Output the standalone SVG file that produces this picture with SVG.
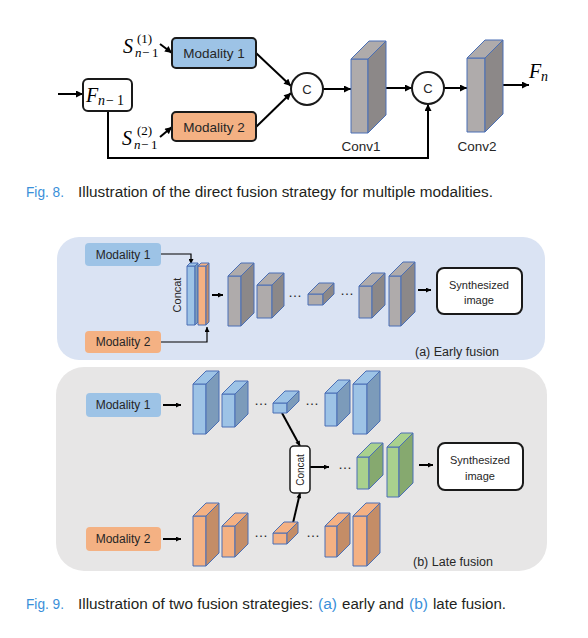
<svg xmlns="http://www.w3.org/2000/svg" width="588" height="638" viewBox="0 0 588 638">
<style>
.lbl{font-family:"Liberation Sans",Arial,sans-serif;fill:#262626}
.cap{font-family:"Liberation Sans",Arial,sans-serif;font-size:15.5px;fill:#231f20}
.capb{fill:#3a8fd9}
.math{font-family:"Liberation Serif","Times New Roman",serif;font-style:italic;fill:#000}
.up{font-style:normal}
.conn{stroke:#000;stroke-width:2;fill:none}
.thin{stroke:#000;stroke-width:1.2;fill:none}
.box{stroke:#1a1a1a;stroke-width:2}
.pr polygon,.pr rect{stroke:#4a6fb5;stroke-width:1;stroke-linejoin:round}
.gf{fill:#afabab}.gs{fill:#8c8888}
.bf{fill:#9dc3e6}.bs{fill:#7c9bba}
.of{fill:#f4b183}.os{fill:#c48d67}
.nf{fill:#a9d18e}.ns{fill:#86a96f}
.dots{font-family:"Liberation Sans",Arial,sans-serif;font-size:14px;fill:#262626}
</style>
<defs>
<marker id="ah" viewBox="0 0 10 10" refX="10" refY="5" markerWidth="8" markerHeight="7" markerUnits="userSpaceOnUse" orient="auto"><path d="M0,0 L10,5 L0,10 z" fill="#000"/></marker>
<marker id="ahs" viewBox="0 0 10 10" refX="10" refY="5" markerWidth="6" markerHeight="5" markerUnits="userSpaceOnUse" orient="auto"><path d="M0,0 L10,5 L0,10 z" fill="#000"/></marker>
</defs>

<!-- ===== Fig 8 ===== -->
<g id="connectors-fig8">
<line class="conn" x1="58" y1="94" x2="83" y2="94" marker-end="url(#ah)"/>
<line class="conn" x1="160" y1="44" x2="172" y2="53" marker-end="url(#ah)"/>
<line class="conn" x1="160" y1="137" x2="172" y2="127" marker-end="url(#ah)"/>
<line class="conn" x1="256" y1="53" x2="291" y2="86" marker-end="url(#ah)"/>
<line class="conn" x1="256" y1="127" x2="291" y2="93" marker-end="url(#ah)"/>
<line class="conn" x1="323" y1="89" x2="351" y2="89" marker-end="url(#ah)"/>
<line class="conn" x1="386" y1="88" x2="412" y2="88" marker-end="url(#ah)"/>
<line class="conn" x1="444" y1="88" x2="467" y2="88" marker-end="url(#ah)"/>
<line class="conn" x1="503" y1="85" x2="529" y2="85" marker-end="url(#ah)"/>
<polyline class="conn" points="108,111 108,158 428,158 428,104" marker-end="url(#ah)"/>
</g>

<g id="F_prev">
<rect class="box" x="83" y="79" width="49" height="32" rx="5" fill="#fff"/>
<text class="math" font-size="20" x="86" y="102">F</text>
<text class="math" font-size="14" x="98" y="105">n</text>
<text class="math up" font-size="14" x="106" y="105">−</text>
<text class="math up" font-size="14" x="117" y="105">1</text>
</g>
<g id="S1">
<text class="math" font-size="20" x="123" y="53">S</text>
<text class="math up" font-size="13" x="137" y="43">(1)</text>
<text class="math" font-size="13" x="135" y="57">n</text>
<text class="math up" font-size="13" x="142" y="57">−</text>
<text class="math up" font-size="13" x="152" y="57">1</text>
</g>
<g id="S2">
<text class="math" font-size="20" x="122" y="145">S</text>
<text class="math up" font-size="13" x="137" y="135">(2)</text>
<text class="math" font-size="13" x="134" y="149">n</text>
<text class="math up" font-size="13" x="141" y="149">−</text>
<text class="math up" font-size="13" x="151" y="149">1</text>
</g>
<g id="modality1-top">
<rect class="box" x="172" y="38" width="84" height="30" rx="4" fill="#9dc3e6"/>
<text class="lbl" font-size="13.5" x="214" y="58" text-anchor="middle">Modality 1</text>
</g>
<g id="modality2-top">
<rect class="box" x="172" y="112" width="84" height="29" rx="4" fill="#f4b183"/>
<text class="lbl" font-size="13.5" x="214" y="132" text-anchor="middle">Modality 2</text>
</g>
<g id="concat1">
<circle class="box" cx="307" cy="89" r="16" fill="#fff"/>
<text class="lbl" font-size="13" x="307" y="94" text-anchor="middle">C</text>
</g>
<g id="conv1" class="pr">
<rect class="gf" x="351" y="59" width="17" height="74"/>
<polygon class="gf" points="351,59 369,41 386,41 368,59"/>
<polygon class="gs" points="368,59 386,41 386,115 368,133"/>
<text class="lbl" font-size="13.5" x="361" y="151" text-anchor="middle" style="stroke:none">Conv1</text>
</g>
<g id="concat2">
<circle class="box" cx="428" cy="88" r="16" fill="#fff"/>
<text class="lbl" font-size="13" x="428" y="93" text-anchor="middle">C</text>
</g>
<g id="conv2" class="pr">
<rect class="gf" x="467" y="58" width="18" height="74"/>
<polygon class="gf" points="467,58 485,40 503,40 485,58"/>
<polygon class="gs" points="485,58 503,40 503,114 485,132"/>
<text class="lbl" font-size="13.5" x="477" y="151" text-anchor="middle" style="stroke:none">Conv2</text>
</g>
<g id="F_n">
<text class="math" font-size="20" x="529" y="78">F</text>
<text class="math" font-size="14" x="541" y="81">n</text>
</g>

<g id="caption8">
<text class="cap capb" x="26" y="197" textLength="38" lengthAdjust="spacingAndGlyphs">Fig. 8.</text>
<text class="cap" x="78" y="197" textLength="415" lengthAdjust="spacingAndGlyphs">Illustration of the direct fusion strategy for multiple modalities.</text>
</g>

<!-- ===== Fig 9 (a) early fusion ===== -->
<g id="panel-early">
<rect x="57" y="237" width="488" height="123" rx="22" fill="#dae3f3"/>
<text class="lbl" font-size="12.5" x="415" y="356">(a) Early fusion</text>
</g>
<g id="panel-late">
<rect x="56" y="367" width="491" height="204" rx="28" fill="#e7e6e6"/>
<text class="lbl" font-size="12.5" x="413" y="566">(b) Late fusion</text>
</g>

<g id="connectors-fig9">
<polyline class="thin" points="161,254 191,254 191,264" marker-end="url(#ahs)"/>
<polyline class="thin" points="161,342 207,342 207,327" marker-end="url(#ahs)"/>
<line class="conn" x1="212" y1="295" x2="223" y2="295" marker-end="url(#ahs)"/>
<line class="conn" x1="418" y1="290" x2="431" y2="290" marker-end="url(#ahs)"/>
<line class="conn" x1="163" y1="405" x2="181" y2="405" marker-end="url(#ahs)"/>
<line class="conn" x1="163" y1="539" x2="181" y2="539" marker-end="url(#ahs)"/>
<line class="conn" x1="282" y1="413" x2="300" y2="446" marker-end="url(#ahs)"/>
<line class="conn" x1="293" y1="523" x2="300" y2="493" marker-end="url(#ahs)"/>
<line class="conn" x1="310" y1="467" x2="329" y2="467" marker-end="url(#ahs)"/>
<line class="conn" x1="419" y1="465" x2="433" y2="465" marker-end="url(#ahs)"/>
</g>

<g id="early-modality1"><rect x="85" y="243" width="76" height="23" rx="4" fill="#9dc3e6"/><text class="lbl" font-size="12" x="123" y="259" text-anchor="middle">Modality 1</text></g>
<g id="early-modality2"><rect x="85" y="331" width="76" height="22" rx="4" fill="#f4b183"/><text class="lbl" font-size="12" x="123" y="346" text-anchor="middle">Modality 2</text></g>
<g id="early-concat" class="pr">
<rect class="bf" x="187" y="266" width="8" height="59"/>
<polygon class="bf" points="187,266 190,263 198,263 195,266"/>
<polygon class="bs" points="195,266 198,263 198,322 195,325"/>
<rect class="of" x="198" y="266" width="8" height="59"/>
<polygon class="of" points="198,266 201,263 209,263 206,266"/>
<polygon class="os" points="206,266 209,263 209,322 206,325"/>
<text class="lbl" font-size="11" transform="translate(181,295) rotate(-90)" text-anchor="middle" style="stroke:none">Concat</text>
</g>
<g id="early-enc1" class="pr"><rect class="gf" x="228" y="276" width="13" height="50"/><polygon class="gf" points="228,276 241,263 254,263 241,276"/><polygon class="gs" points="241,276 254,263 254,313 241,326"/></g>
<g id="early-enc2" class="pr"><rect class="gf" x="257" y="285" width="15" height="33"/><polygon class="gf" points="257,285 269,273 284,273 272,285"/><polygon class="gs" points="272,285 284,273 284,306 272,318"/></g>
<text class="dots" x="288" y="297">…</text>
<g id="early-bottleneck" class="pr"><rect class="gf" x="308" y="294" width="15" height="11"/><polygon class="gf" points="308,294 319,283 334,283 323,294"/><polygon class="gs" points="323,294 334,283 334,294 323,305"/></g>
<text class="dots" x="340" y="295">…</text>
<g id="early-dec1" class="pr"><rect class="gf" x="359" y="286" width="13" height="32"/><polygon class="gf" points="359,286 372,273 385,273 372,286"/><polygon class="gs" points="372,286 385,273 385,305 372,318"/></g>
<g id="early-dec2" class="pr"><rect class="gf" x="389" y="276" width="12" height="50"/><polygon class="gf" points="389,276 403,262 415,262 401,276"/><polygon class="gs" points="401,276 415,262 415,312 401,326"/></g>
<g id="early-output"><rect class="box" x="437" y="268" width="85" height="46" rx="7" fill="#fff"/><text class="lbl" font-size="11" x="479" y="289" text-anchor="middle">Synthesized</text><text class="lbl" font-size="11" x="479" y="304" text-anchor="middle">image</text></g>

<!-- ===== Fig 9 (b) late fusion ===== -->
<g id="late-modality1"><rect x="86" y="393" width="75" height="24" rx="4" fill="#9dc3e6"/><text class="lbl" font-size="12" x="123" y="409" text-anchor="middle">Modality 1</text></g>
<g id="late-modality2"><rect x="86" y="527" width="75" height="24" rx="4" fill="#f4b183"/><text class="lbl" font-size="12" x="123" y="543" text-anchor="middle">Modality 2</text></g>

<g id="late-blue1" class="pr"><rect class="bf" x="193" y="384" width="13" height="50"/><polygon class="bf" points="193,384 206,371 219,371 206,384"/><polygon class="bs" points="206,384 219,371 219,421 206,434"/></g>
<g id="late-blue2" class="pr"><rect class="bf" x="222" y="394" width="13" height="33"/><polygon class="bf" points="222,394 235,381 248,381 235,394"/><polygon class="bs" points="235,394 248,381 248,414 235,427"/></g>
<text class="dots" x="254" y="405">…</text>
<g id="late-blue3" class="pr"><rect class="bf" x="273" y="403" width="14" height="10"/><polygon class="bf" points="273,403 285,391 299,391 287,403"/><polygon class="bs" points="287,403 299,391 299,401 287,413"/></g>
<text class="dots" x="305" y="405">…</text>
<g id="late-blue4" class="pr"><rect class="bf" x="325" y="393" width="12" height="33"/><polygon class="bf" points="325,393 338,380 350,380 337,393"/><polygon class="bs" points="337,393 350,380 350,413 337,426"/></g>
<g id="late-blue5" class="pr"><rect class="bf" x="353" y="384" width="14" height="50"/><polygon class="bf" points="353,384 366,371 380,371 367,384"/><polygon class="bs" points="367,384 380,371 380,421 367,434"/></g>

<g id="late-orange1" class="pr"><rect class="of" x="193" y="516" width="13" height="50"/><polygon class="of" points="193,516 206,503 219,503 206,516"/><polygon class="os" points="206,516 219,503 219,553 206,566"/></g>
<g id="late-orange2" class="pr"><rect class="of" x="222" y="526" width="13" height="31"/><polygon class="of" points="222,526 235,513 248,513 235,526"/><polygon class="os" points="235,526 248,513 248,544 235,557"/></g>
<text class="dots" x="254" y="537">…</text>
<g id="late-orange3" class="pr"><rect class="of" x="273" y="533" width="14" height="11"/><polygon class="of" points="273,533 284,522 298,522 287,533"/><polygon class="os" points="287,533 298,522 298,533 287,544"/></g>
<text class="dots" x="306" y="537">…</text>
<g id="late-orange4" class="pr"><rect class="of" x="325" y="526" width="12" height="31"/><polygon class="of" points="325,526 338,513 350,513 337,526"/><polygon class="os" points="337,526 350,513 350,544 337,557"/></g>
<g id="late-orange5" class="pr"><rect class="of" x="353" y="516" width="14" height="50"/><polygon class="of" points="353,516 366,503 380,503 367,516"/><polygon class="os" points="367,516 380,503 380,553 367,566"/></g>

<g id="late-concat"><rect x="290" y="446" width="20" height="47" rx="4" fill="#fff" stroke="#1a1a1a" stroke-width="1.5"/><text class="lbl" font-size="10" transform="translate(304,470) rotate(-90)" text-anchor="middle">Concat</text></g>
<text class="dots" x="338" y="469">…</text>
<g id="late-green1" class="pr"><rect class="nf" x="357" y="457" width="12" height="32"/><polygon class="nf" points="357,457 371,443 383,443 369,457"/><polygon class="ns" points="369,457 383,443 383,475 369,489"/></g>
<g id="late-green2" class="pr"><rect class="nf" x="387" y="447" width="12" height="50"/><polygon class="nf" points="387,447 401,433 413,433 399,447"/><polygon class="ns" points="399,447 413,433 413,483 399,497"/></g>
<g id="late-output"><rect class="box" x="438" y="443" width="85" height="47" rx="7" fill="#fff"/><text class="lbl" font-size="11" x="480" y="464" text-anchor="middle">Synthesized</text><text class="lbl" font-size="11" x="480" y="480" text-anchor="middle">image</text></g>

<g id="caption9">
<text class="cap capb" x="26" y="609" textLength="38" lengthAdjust="spacingAndGlyphs">Fig. 9.</text>
<text class="cap" x="78" y="609" textLength="235" lengthAdjust="spacingAndGlyphs">Illustration of two fusion strategies:</text>
<text class="cap capb" x="318" y="609" textLength="19" lengthAdjust="spacingAndGlyphs">(a)</text>
<text class="cap" x="342" y="609" textLength="62" lengthAdjust="spacingAndGlyphs">early and</text>
<text class="cap capb" x="409" y="609" textLength="19" lengthAdjust="spacingAndGlyphs">(b)</text>
<text class="cap" x="433" y="609" textLength="73" lengthAdjust="spacingAndGlyphs">late fusion.</text>
</g>
</svg>
